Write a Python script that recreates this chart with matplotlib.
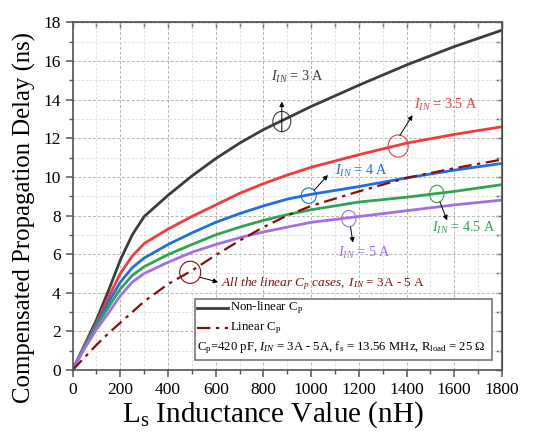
import matplotlib as mpl
mpl.use('Agg')
import matplotlib.pyplot as plt
from matplotlib.patches import Ellipse, Rectangle
from matplotlib.lines import Line2D
from matplotlib.ticker import MultipleLocator

plt.rcParams['font.family'] = ['Liberation Serif', 'DejaVu Serif']
plt.rcParams['mathtext.fontset'] = 'custom'
plt.rcParams['mathtext.rm'] = 'Liberation Serif'
plt.rcParams['mathtext.it'] = 'Liberation Serif:italic'

# inductance (nH)
L = [0, 50, 100, 150, 200, 250, 300, 400, 500, 600, 700, 800, 900, 1000, 1200, 1400, 1600, 1800]

# non-linear Cp, one curve per input current
d_3A = [0, 1.3, 2.6, 4.1, 5.7, 7.0, 7.95, 9.05, 10.05, 10.95, 11.75, 12.45, 13.05, 13.65, 14.75, 15.8, 16.75, 17.6]
d_35A = [0, 1.25, 2.45, 3.75, 5.0, 5.9, 6.55, 7.3, 7.95, 8.55, 9.15, 9.65, 10.1, 10.5, 11.15, 11.75, 12.2, 12.6]
d_4A = [0, 1.2, 2.35, 3.5, 4.55, 5.3, 5.8, 6.5, 7.1, 7.65, 8.1, 8.5, 8.85, 9.1, 9.5, 9.95, 10.35, 10.7]
d_45A = [0, 1.18, 2.27, 3.25, 4.2, 4.9, 5.35, 5.98, 6.5, 7.0, 7.4, 7.75, 8.05, 8.3, 8.7, 8.95, 9.25, 9.6]
d_5A = [0, 1.12, 2.1, 2.95, 3.85, 4.55, 5.0, 5.58, 6.1, 6.5, 6.85, 7.15, 7.4, 7.65, 7.95, 8.25, 8.55, 8.8]

# linear Cp (same for all currents)
d_lin = [0, 0.65, 1.3, 1.9, 2.45, 3.0, 3.55, 4.45, 5.15, 5.95, 6.7, 7.4, 8.0, 8.5, 9.25, 9.95, 10.45, 10.9]

c_black = '#3c3c3c'
c_red = '#f23b3b'
c_blue = '#1f6fdf'
c_green = '#30a354'
c_purple = '#a46ee6'
c_lin = '#8b0a0a'
lin_dash = (0, (6, 2.5, 1.5, 2.5))

fig = plt.figure(figsize=(5.34, 4.32), dpi=100)
ax = fig.add_axes([0.136, 0.1435, 0.804, 0.8045])

ax.plot(L, d_3A, color=c_black, lw=2.0)
ax.plot(L, d_35A, color=c_red, lw=2.0)
ax.plot(L, d_4A, color=c_blue, lw=2.0)
ax.plot(L, d_45A, color=c_green, lw=2.0)
ax.plot(L, d_5A, color=c_purple, lw=2.0)
ax.plot(L, d_lin, color=c_lin, lw=1.6, ls=lin_dash)

ax.set_xlim(0, 1800)
ax.set_ylim(0, 18)
ax.xaxis.set_major_locator(MultipleLocator(200))
ax.xaxis.set_minor_locator(MultipleLocator(100))
ax.yaxis.set_major_locator(MultipleLocator(2))
ax.yaxis.set_minor_locator(MultipleLocator(1))

ax.grid(which='major', color='#b5b5b5', ls=(0, (3, 2)), lw=0.7)
ax.grid(which='minor', color='#dcdcdc', ls=(0, (3, 2)), lw=0.6)
ax.set_axisbelow(True)

for s in ax.spines.values():
    s.set_color('#555555')
    s.set_linewidth(1.2)
ax.tick_params(which='both', direction='out', color='#555555', labelsize=12.5)
ax.tick_params(which='major', length=5, width=1.1)
ax.tick_params(which='minor', length=3, width=1.0)

# mirrored ticks on top/right pointing inward
axt = ax.secondary_xaxis('top')
axt.xaxis.set_major_locator(MultipleLocator(100))
axt.tick_params(direction='in', length=4, width=1.0, color='#555555', labeltop=False)
axr = ax.secondary_yaxis('right')
axr.yaxis.set_major_locator(MultipleLocator(1))
axr.tick_params(direction='in', length=4, width=1.0, color='#555555', labelright=False)

ax.set_xlabel(r'L$_\mathrm{s}$ Inductance Value (nH)', fontsize=21)
ax.xaxis.set_label_coords(0.467, -0.085)
ax.set_ylabel('Compensated Propagation Delay (ns)', fontsize=17.8)
ax.yaxis.set_label_coords(-0.085, 0.44)

# circle + arrow + label annotations
arrow = dict(arrowstyle='-|>', color='k', lw=0.7, mutation_scale=7, shrinkA=0, shrinkB=0)
notes = [
    # centre, w, h, colour, arrow start, arrow end, text pos, text
    ((877, 12.87), 75, 1.05, c_black, (877, 12.35), (877, 13.9), (833, 15.2), r'$I_{IN}$ = 3 A'),
    ((1365, 11.6), 84, 1.15, c_red, (1372, 12.15), (1425, 13.2), (1430, 13.75), r'$I_{IN}$ = 3.5 A'),
    ((990, 9.03), 63, 0.8, c_blue, (1012, 9.3), (1070, 10.1), (1100, 10.3), r'$I_{IN}$ = 4 A'),
    ((1527, 9.12), 60, 0.9, c_green, (1540, 8.7), (1570, 7.75), (1505, 7.35), r'$I_{IN}$ = 4.5 A'),
    ((1158, 7.84), 60, 0.85, c_purple, (1165, 7.42), (1175, 6.6), (1113, 6.05), r'$I_{IN}$ = 5 A'),
]
for (cx, cy), w, h, col, a0, a1, tp, txt in notes:
    ax.add_patch(Ellipse((cx, cy), w, h, fill=False, ec=col, lw=0.8))
    ax.annotate('', xy=a1, xytext=a0, arrowprops=arrow)
    ax.text(tp[0], tp[1], txt, color=col, fontsize=10.3, va='center', ha='left')

ax.add_patch(Ellipse((493, 5.06), 88, 1.15, fill=False, ec=c_lin, lw=0.8))
ax.annotate('', xy=(610, 4.55), xytext=(535, 4.8), arrowprops=arrow)
ax.text(620, 4.45, r'$All\ the\ linear\ C_p\ cases,\ I_{IN}$ = 3A - 5 A',
        color=c_lin, fontsize=9.5, va='center', ha='left')

# legend box drawn by hand
ax.add_patch(Rectangle((0.285, 0.029), 0.692, 0.175, transform=ax.transAxes,
                       fc='white', ec='#777777', lw=1.2, zorder=5))
ax.add_line(Line2D([0.289, 0.362], [0.178, 0.178], transform=ax.transAxes,
                   color=c_black, lw=2.0, zorder=6))
ax.add_line(Line2D([0.289, 0.362], [0.121, 0.121], transform=ax.transAxes,
                   color=c_lin, lw=1.6, ls=lin_dash, zorder=6))
ax.text(0.367, 0.178, r'Non-linear C$_\mathrm{p}$', transform=ax.transAxes,
        fontsize=9.2, va='center', zorder=7)
ax.text(0.367, 0.121, r'Linear C$_\mathrm{p}$', transform=ax.transAxes,
        fontsize=9.2, va='center', zorder=7)
ax.text(0.29, 0.063, r'C$_\mathrm{p}$=420 pF, $I_{IN}$ = 3A - 5A, f$_\mathrm{s}$ = 13.56 MHz, R$_\mathrm{load}$ = 25 $\Omega$',
        transform=ax.transAxes, fontsize=9.2, va='center', zorder=7)

fig.savefig('out.png', dpi=100)
